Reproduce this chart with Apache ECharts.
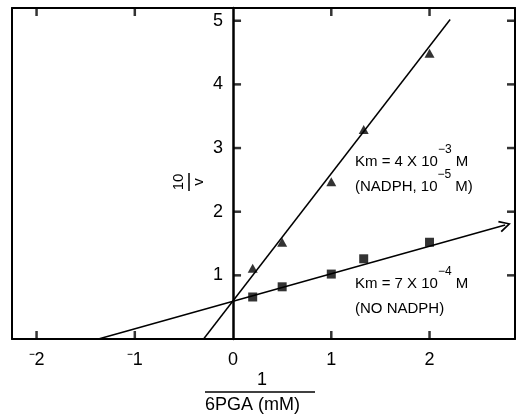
<!DOCTYPE html>
<html>
<head>
<meta charset="utf-8">
<script src="https://cdn.jsdelivr.net/npm/echarts@6/dist/echarts.min.js"></script>
<style>html,body{margin:0;padding:0;background:#fff;}#c{width:520px;height:417px;}</style>
</head>
<body>
<div id="c"></div>
<script>
// Data (x = 1/[6PGA] in mM^-1, y = 10/v)
var xPoints = [0.2, 0.5, 1.0, 1.33, 2.0];
var yNadph = [1.11, 1.52, 2.47, 3.29, 4.49];   // triangles (NADPH 1e-5 M)
var yNoNadph = [0.66, 0.82, 1.02, 1.26, 1.52]; // squares (no NADPH)
// fitted lines (endpoints)
var fitNadphX = [-0.3, 2.21];
var fitNadphY = [0, 5.02];
var fitNoNadphX = [-1.37, 2.77];
var fitNoNadphY = [0, 1.79];
var xTicks = [-2, -1, 1, 2];
var xLabels = [-2, -1, 0, 1, 2];
var yTicks = [1, 2, 3, 4, 5];
var xMin = -2.25, xMax = 2.87, yMin = 0, yMax = 5.2;

var FONT = 'Liberation Sans';
var GL = 12, GR = 5, GT = 8, GB = 78, W = 520;
var zeroOffset = -((0 - xMin) / (xMax - xMin) * (W - GL - GR));
var TICK = 8;

var chart = echarts.init(document.getElementById('c'), null, {renderer: 'canvas'});

function pairs(xs, ys) { return xs.map(function (x, i) { return [x, ys[i]]; }); }
var chevron = 'path://M5,0 L10,9 L8.7,9.7 L5,2.7 L1.3,9.7 L0,9 Z';
var black = {color: '#000', width: 2};

// tick marks: thin rect symbols placed through the axis scales, shifted into the plot
function tickSeries(data, vertical, dir) {
  return {
    type: 'scatter', silent: true, clip: false, z: 6,
    data: data, symbol: 'rect',
    symbolSize: vertical ? [2.5, TICK] : [TICK, 2.5],
    symbolOffset: vertical ? [0, dir * TICK / 2] : [dir * TICK / 2, 0],
    itemStyle: {color: '#000'}
  };
}

var option = {
  animation: false,
  backgroundColor: '#fff',
  grid: {left: GL, right: GR, top: GT, bottom: GB, outerBoundsMode: 'none', containLabel: false},
  xAxis: [
    {type: 'value', min: xMin, max: xMax, position: 'bottom',
     axisLine: {show: true, onZero: false, lineStyle: black},
     axisTick: {show: false},
     axisLabel: {show: true, customValues: xLabels, margin: 12, fontSize: 18, fontFamily: FONT, color: '#000',
       formatter: function (v) { return v < 0 ? '\u207B' + Math.abs(v) : String(v); }},
     splitLine: {show: false}},
    {type: 'value', min: xMin, max: xMax, position: 'top',
     axisLine: {show: true, onZero: false, lineStyle: black},
     axisTick: {show: false}, axisLabel: {show: false}, splitLine: {show: false}}
  ],
  yAxis: [
    {type: 'value', min: yMin, max: yMax, position: 'left', offset: zeroOffset,
     axisLine: {show: true, onZero: false, lineStyle: {color: '#000', width: 2.5}},
     axisTick: {show: false},
     axisLabel: {show: true, customValues: yTicks, margin: 10, fontSize: 18, fontFamily: FONT, color: '#000'},
     splitLine: {show: false}},
    {type: 'value', min: yMin, max: yMax, position: 'right',
     axisLine: {show: true, onZero: false, lineStyle: black},
     axisTick: {show: false}, axisLabel: {show: false}, splitLine: {show: false}},
    {type: 'value', min: yMin, max: yMax, position: 'left', offset: 0,
     axisLine: {show: true, onZero: false, lineStyle: black},
     axisTick: {show: false}, axisLabel: {show: false}, splitLine: {show: false}}
  ],
  series: [
    {type: 'scatter', name: 'NADPH', data: pairs(xPoints, yNadph), symbol: 'triangle', symbolSize: [10, 9],
     itemStyle: {color: '#000'}, z: 5,
     markLine: {silent: true, animation: false, symbol: ['none', 'none'], label: {show: false},
       lineStyle: {color: '#000', width: 1.5, type: 'solid'},
       data: [[{coord: [fitNadphX[0], fitNadphY[0]]}, {coord: [fitNadphX[1], fitNadphY[1]]}]]}},
    {type: 'scatter', name: 'No NADPH', data: pairs(xPoints, yNoNadph), symbol: 'rect', symbolSize: 9,
     itemStyle: {color: '#000'}, z: 5,
     markLine: {silent: true, animation: false, symbol: ['none', chevron], symbolSize: 12, label: {show: false},
       lineStyle: {color: '#000', width: 1.5, type: 'solid'},
       data: [[{coord: [fitNoNadphX[0], fitNoNadphY[0]]}, {coord: [fitNoNadphX[1], fitNoNadphY[1]]}]]}},
    tickSeries(xTicks.map(function (v) { return [v, yMin]; }), true, -1),
    tickSeries(xTicks.map(function (v) { return [v, yMax]; }), true, 1),
    tickSeries(yTicks.map(function (v) { return [0, v]; }), false, 1),
    tickSeries(yTicks.map(function (v) { return [xMax, v]; }), false, -1)
  ],
  graphic: [
    // x-axis title as a fraction
    {type: 'text', left: 257, top: 371, style: {text: '1', font: '18px ' + FONT, fill: '#000'}},
    {type: 'line', shape: {x1: 205, y1: 392, x2: 315, y2: 392}, style: {stroke: '#000', lineWidth: 1.5}},
    {type: 'text', left: 205, top: 396, style: {text: '6PGA (mM)', font: '18px ' + FONT, fill: '#000'}},
    // y-axis title: 10 / v rotated
    {type: 'group', x: 189, y: 182, rotation: Math.PI / 2, children: [
      {type: 'text', x: 0, y: -3, style: {text: '10', font: '15px ' + FONT, fill: '#000', align: 'center', verticalAlign: 'bottom'}},
      {type: 'line', shape: {x1: -9, y1: 0, x2: 9, y2: 0}, style: {stroke: '#000', lineWidth: 1.5}},
      {type: 'text', x: 0, y: 2, style: {text: 'v', font: '15px ' + FONT, fill: '#000', align: 'center', verticalAlign: 'top'}}
    ]},
    // annotations
    {type: 'text', left: 355, top: 144, style: {
      text: '{n|Km = 4 X 10}{s|\u22123}{n| M}\n{n|(NADPH, 10}{s|\u22125}{n| M)}',
      rich: {n: {font: '15px ' + FONT, fill: '#000', lineHeight: 25, verticalAlign: 'bottom'},
             s: {font: '12px ' + FONT, fill: '#000', lineHeight: 25, verticalAlign: 'top'}}}},
    {type: 'text', left: 355, top: 266, style: {
      text: '{n|Km = 7 X 10}{s|\u22124}{n| M}\n{n|(NO NADPH)}',
      rich: {n: {font: '15px ' + FONT, fill: '#000', lineHeight: 25, verticalAlign: 'bottom'},
             s: {font: '12px ' + FONT, fill: '#000', lineHeight: 25, verticalAlign: 'top'}}}}
  ]
};
chart.setOption(option);
</script>
</body>
</html>
